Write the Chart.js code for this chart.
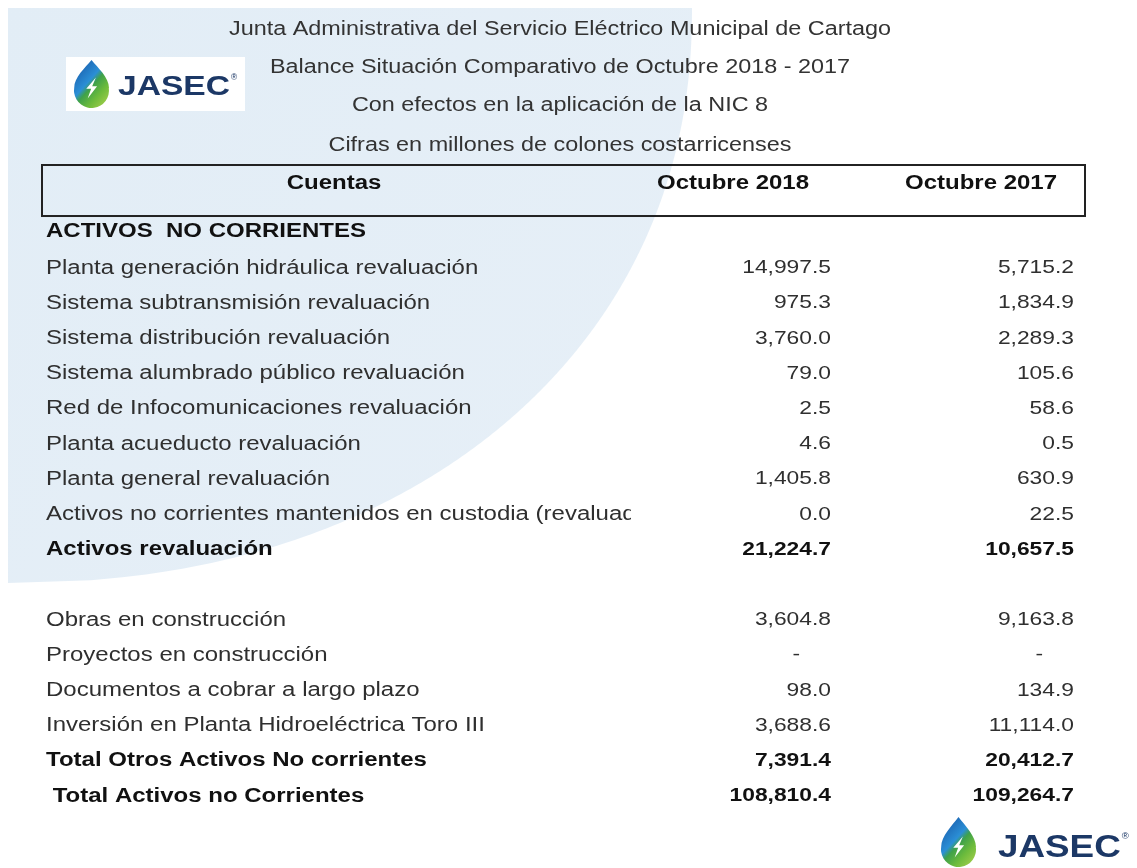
<!DOCTYPE html>
<html>
<head>
<meta charset="utf-8">
<script src="https://cdn.jsdelivr.net/npm/chart.js@4"></script>
<style>
  html, body { margin: 0; padding: 0; background: #ffffff; }
  canvas { display: block; }
</style>
</head>
<body>
<canvas id="c" width="1137" height="868"></canvas>
<script>
// ---------------- DATA ----------------
const titleLines = [
  'Junta Administrativa del Servicio Eléctrico Municipal de Cartago',
  'Balance Situación Comparativo de Octubre 2018 - 2017',
  'Con efectos en la aplicación de la NIC 8',
  'Cifras en millones de colones costarricenses'
];
const columnHeaders = ['Cuentas', 'Octubre 2018', 'Octubre 2017'];
const sectionTitle = 'ACTIVOS  NO CORRIENTES';
const rowLabels = [
  'Planta generación hidráulica revaluación',
  'Sistema subtransmisión revaluación',
  'Sistema distribución revaluación',
  'Sistema alumbrado público revaluación',
  'Red de Infocomunicaciones revaluación',
  'Planta acueducto revaluación',
  'Planta general revaluación',
  'Activos no corrientes mantenidos en custodia (revaluados)',
  'Activos revaluación',
  '',
  'Obras en construcción',
  'Proyectos en construcción',
  'Documentos a cobrar a largo plazo',
  'Inversión en Planta Hidroeléctrica Toro III',
  'Total Otros Activos No corrientes',
  ' Total Activos no Corrientes'
];
const values2018 = [14997.5, 975.3, 3760.0, 79.0, 2.5, 4.6, 1405.8, 0.0, 21224.7, null, 3604.8, null, 98.0, 3688.6, 7391.4, 108810.4];
const values2017 = [5715.2, 1834.9, 2289.3, 105.6, 58.6, 0.5, 630.9, 22.5, 10657.5, null, 9163.8, null, 134.9, 11114.0, 20412.7, 109264.7];
const boldRows = ['Activos revaluación', 'Total Otros Activos No corrientes', ' Total Activos no Corrientes'];

// ---------------- LAYOUT (options) ----------------
const LABEL_X = 46, COL18_X = 831, COL17_X = 1074, LABEL_CLIP = 631;
const HEAD_X = [334, 733, 981], TITLE_X = 560;
const TITLE_ROWS = [-6.761, -5.682, -4.602, -3.466];
const HEADER_ROW = -2.415, BOX_TOP = -2.926, BOX_BOTTOM = -1.477, SECTION_ROW = -1.051;
const SX = 1.2;
const FONT = '"Liberation Sans", Arial, sans-serif';
const C_NORMAL = '#2f2f2f', C_BOLD = '#111111', C_NAVY = '#1c3866';

function fmt(v) {
  return v.toLocaleString('en-US', {minimumFractionDigits: 1, maximumFractionDigits: 1});
}
function drawText(ctx, text, x, y, font, color, align, sx) {
  ctx.save();
  ctx.font = font;
  ctx.fillStyle = color;
  ctx.textBaseline = 'middle';
  ctx.textAlign = 'left';
  const w = ctx.measureText(text).width * sx;
  const left = align === 'right' ? x - w : (align === 'center' ? x - w / 2 : x);
  ctx.translate(left, y);
  ctx.scale(sx, 1);
  ctx.fillText(text, 0, 0);
  ctx.restore();
}
function drawDrop(ctx, x0, y0, w, h) {
  const cx = x0 + w / 2, r = w / 2, cy = y0 + h - r, top = y0;
  ctx.save();
  ctx.beginPath();
  ctx.moveTo(cx, top);
  ctx.bezierCurveTo(cx + 0.35 * r, top + 0.25 * (cy - top), cx + 1.0 * r, cy - 0.75 * r, cx + 1.0 * r, cy - 0.15 * r);
  ctx.arc(cx, cy, r, -0.15, Math.PI + 0.15, false);
  ctx.bezierCurveTo(cx - 1.0 * r, cy - 0.75 * r, cx - 0.35 * r, top + 0.25 * (cy - top), cx, top);
  ctx.closePath();
  const g = ctx.createLinearGradient(x0, y0 + h * 0.2, x0 + w, y0 + h * 0.85);
  g.addColorStop(0, '#1a5fae');
  g.addColorStop(0.4, '#2b8fd6');
  g.addColorStop(0.52, '#3fa14a');
  g.addColorStop(0.75, '#6cbb3c');
  g.addColorStop(1, '#9dcc4a');
  ctx.fillStyle = g;
  ctx.fill();
  // lightning bolt
  const by = cy - 0.2 * r;
  ctx.beginPath();
  ctx.moveTo(cx + 0.25 * r, by - 0.55 * r);
  ctx.lineTo(cx - 0.3 * r, by + 0.1 * r);
  ctx.lineTo(cx - 0.02 * r, by + 0.1 * r);
  ctx.lineTo(cx - 0.22 * r, by + 0.65 * r);
  ctx.lineTo(cx + 0.32 * r, by - 0.05 * r);
  ctx.lineTo(cx + 0.04 * r, by - 0.05 * r);
  ctx.closePath();
  ctx.fillStyle = '#ffffff';
  ctx.fill();
  ctx.restore();
}
function drawLogo(ctx, x0, y0, dw, dh, tx, baseline, size, sx) {
  drawDrop(ctx, x0, y0, dw, dh);
  ctx.save();
  ctx.font = 'bold ' + size + 'px ' + FONT;
  ctx.fillStyle = C_NAVY;
  ctx.textBaseline = 'alphabetic';
  const w = ctx.measureText('JASEC').width * sx;
  ctx.translate(tx, baseline);
  ctx.scale(sx, 1);
  ctx.fillText('JASEC', 0, 0);
  ctx.restore();
  ctx.save();
  ctx.font = (size * 0.3) + 'px ' + FONT;
  ctx.fillStyle = C_NAVY;
  ctx.fillText('®', tx + w + 1, baseline - size * 0.55);
  ctx.restore();
}

const tablePlugin = {
  id: 'tablePlugin',
  beforeDraw(chart) {
    const ctx = chart.ctx;
    const y = chart.scales.y, x = chart.scales.x;
    ctx.save();
    ctx.fillStyle = '#ffffff';
    ctx.fillRect(0, 0, chart.width, chart.height);
    // background curved panel
    const L = 8, T = 8, RX = 684, RY = 575, P = 2.15;
    ctx.beginPath();
    ctx.moveTo(L, T);
    for (let i = 0; i <= 200; i++) {
      const t = i / 200;
      const px = L + RX * Math.pow(1 - Math.pow(t, P), 1 / P);
      ctx.lineTo(px, T + RY * t);
    }
    ctx.lineTo(L, T + RY);
    ctx.closePath();
    const bg = ctx.createLinearGradient(0, 0, 600, 500);
    bg.addColorStop(0, '#e2edf6');
    bg.addColorStop(1, '#e6eff7');
    ctx.fillStyle = bg;
    ctx.fill();
    ctx.restore();

    // top logo box
    ctx.save();
    ctx.fillStyle = '#ffffff';
    ctx.fillRect(66, 57, 179, 54);
    ctx.restore();
    drawLogo(ctx, 74, 60, 35, 48, 118, 95, 28, 1.2);
    // bottom logo
    drawLogo(ctx, 941, 817, 35, 50, 998, 857, 32, 1.15);

    // header box
    ctx.save();
    ctx.strokeStyle = '#222222';
    ctx.lineWidth = 2;
    const top = y.getPixelForValue(BOX_TOP), bot = y.getPixelForValue(BOX_BOTTOM);
    ctx.strokeRect(x.getPixelForValue(42), top, x.getPixelForValue(1085) - x.getPixelForValue(42), bot - top);
    ctx.restore();
  },
  afterDatasetsDraw(chart) {
    const ctx = chart.ctx;
    const y = chart.scales.y, x = chart.scales.x;
    // titles
    titleLines.forEach((t, i) => {
      drawText(ctx, t, x.getPixelForValue(TITLE_X), y.getPixelForValue(TITLE_ROWS[i]), '19.5px ' + FONT, '#333333', 'center', SX);
    });
    // column headers
    columnHeaders.forEach((h, i) => {
      drawText(ctx, h, x.getPixelForValue(HEAD_X[i]), y.getPixelForValue(HEADER_ROW), 'bold 20px ' + FONT, C_BOLD, 'center', SX);
    });
    drawText(ctx, sectionTitle, x.getPixelForValue(LABEL_X), y.getPixelForValue(SECTION_ROW), 'bold 20px ' + FONT, C_BOLD, 'left', SX);

    // labels dataset
    const labMeta = chart.getDatasetMeta(0);
    ctx.save();
    ctx.beginPath();
    ctx.rect(0, 0, x.getPixelForValue(LABEL_CLIP), chart.height);
    ctx.clip();
    labMeta.data.forEach((el, i) => {
      const lab = rowLabels[i];
      if (!lab) return;
      const bold = boldRows.includes(lab);
      drawText(ctx, lab, el.x, el.y, (bold ? 'bold ' : '') + '20px ' + FONT, bold ? C_BOLD : C_NORMAL, 'left', SX);
    });
    ctx.restore();
    // value datasets
    [1, 2].forEach(di => {
      const meta = chart.getDatasetMeta(di);
      const vals = di === 1 ? values2018 : values2017;
      meta.data.forEach((el, i) => {
        if (!rowLabels[i]) return;
        const bold = boldRows.includes(rowLabels[i]);
        const v = vals[i];
        if (v === null) {
          drawText(ctx, '-', el.x - 31, el.y, '19px ' + FONT, C_NORMAL, 'right', SX);
        } else {
          drawText(ctx, fmt(v), el.x, el.y, (bold ? 'bold ' : '') + '19px ' + FONT, bold ? C_BOLD : C_NORMAL, 'right', SX);
        }
      });
    });
  }
};

const ds = (xPos) => rowLabels.map((_, i) => ({x: xPos, y: i}));

new Chart(document.getElementById('c'), {
  type: 'scatter',
  data: {
    datasets: [
      {label: columnHeaders[0], data: ds(LABEL_X), pointRadius: 0},
      {label: columnHeaders[1], data: values2018.map((v, i) => ({x: COL18_X, y: i})), pointRadius: 0},
      {label: columnHeaders[2], data: values2017.map((v, i) => ({x: COL17_X, y: i})), pointRadius: 0}
    ]
  },
  options: {
    responsive: false,
    animation: false,
    devicePixelRatio: 1,
    layout: {padding: 0},
    plugins: {legend: {display: false}, tooltip: {enabled: false}, title: {display: false}},
    scales: {
      x: {type: 'linear', min: 0, max: 1137, display: false},
      y: {type: 'linear', min: -7.6136, max: 17.045, reverse: true, display: false}
    }
  },
  plugins: [tablePlugin]
});
</script>
</body>
</html>
